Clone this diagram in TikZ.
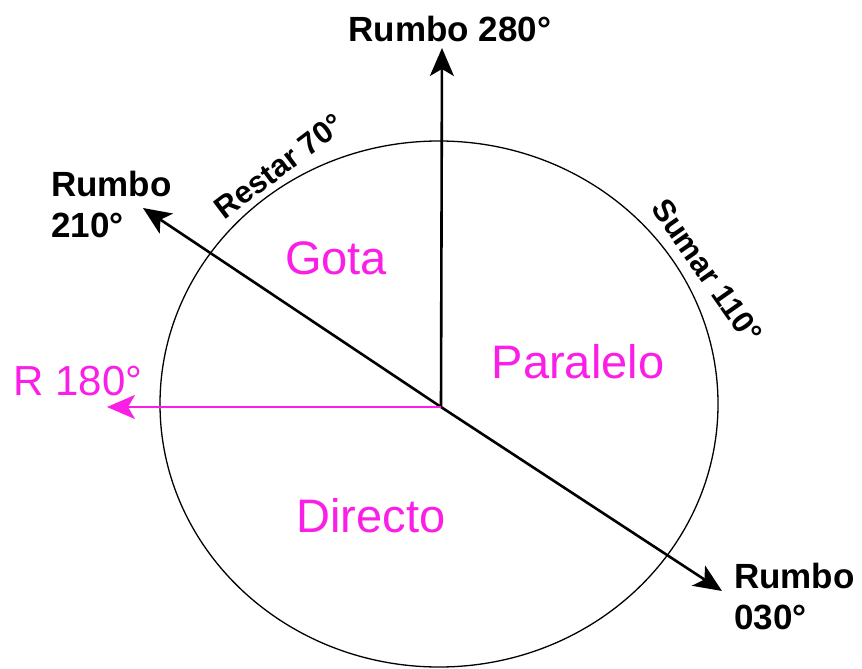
\documentclass[tikz,border=0pt]{standalone}
\usepackage{fontspec}
\setmainfont{Liberation Sans}
\usetikzlibrary{arrows.meta}
\definecolor{mag}{RGB}{250,30,230}
\tikzset{
  blk/.style={font=\fontsize{35}{41}\selectfont\bfseries, text=black, inner sep=0pt},
  arc lbl/.style={font=\fontsize{31}{36}\selectfont\bfseries, text=black, inner sep=0pt},
  zone/.style={font=\fontsize{47}{54}\selectfont, text=mag, inner sep=0pt},
  ray/.style={line width=2.6pt, -{Stealth[length=28pt,width=24pt,inset=7pt]}},
}
\begin{document}
\begin{tikzpicture}[x=1pt,y=-1pt]
\useasboundingbox (0,0) rectangle (862,669);
\draw[line width=1.3pt] (439,404) ellipse [x radius=279, y radius=263];
\coordinate (c) at (441,407);
\coordinate (n) at (442,48);
\coordinate (nw) at (143,208);
\coordinate (se) at (722,591);
\coordinate (w) at (107,407);
\draw[ray] (c) -- (n);
\draw[ray] (c) -- (nw);
\draw[ray] (c) -- (se);
\draw[ray, draw=mag, fill=mag, line width=2.2pt] (c) -- (w);
\node[blk] (l280) at (450,29) {Rumbo 280°};
\node[blk, align=left, anchor=west] (l210) at (51,204) {Rumbo\\210°};
\node[blk, align=left, anchor=west] (l030) at (734,597) {Rumbo\\030°};
\node[arc lbl, rotate=37] (restar) at (279,166) {Restar 70°};
\node[arc lbl, rotate=-55] (sumar) at (707,271) {Sumar 110°};
\node[zone] (gota) at (336,258) {Gota};
\node[zone] (par) at (578,362) {Paralelo};
\node[zone] (dir) at (371,516) {Directo};
\node[zone, font=\fontsize{42}{48}\selectfont] (r180) at (78,381) {R 180°};
\end{tikzpicture}
\end{document}
